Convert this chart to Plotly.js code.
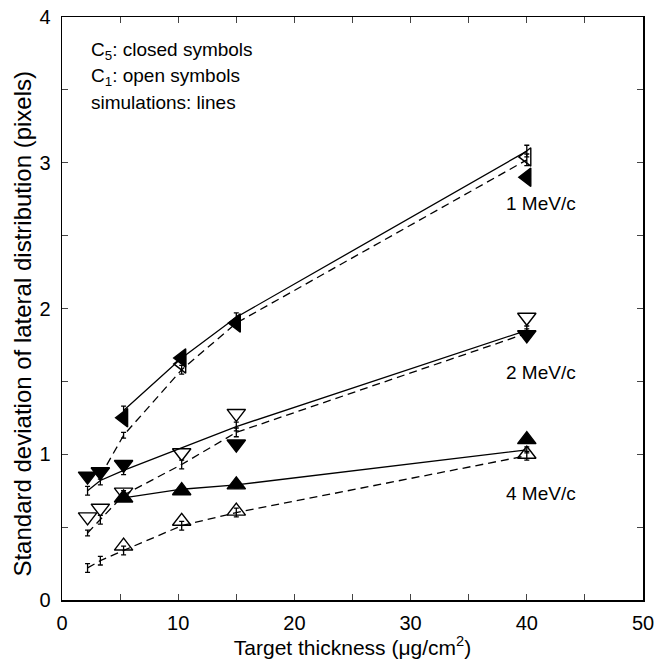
<!DOCTYPE html>
<html><head><meta charset="utf-8">
<script src="https://cdn.plot.ly/plotly-3.0.1.min.js"></script>
<style>body{margin:0;background:#fff}#g{width:654px;height:670px}</style>
</head><body><div id="g"></div>
<script>
// Measured data (symbols)
const c5_1MeV_x = [5.3, 10.3, 15, 40];
const c5_1MeV_y = [1.25, 1.66, 1.90, 2.90];
const c1_1MeV_x = [10.3, 40];
const c1_1MeV_y = [1.62, 3.04];
const c5_2MeV_x = [2.2, 3.3, 5.3, 15, 40];
const c5_2MeV_y = [0.85, 0.88, 0.93, 1.07, 1.82];
const c1_2MeV_x = [2.2, 3.3, 5.3, 10.3, 15, 40];
const c1_2MeV_y = [0.57, 0.63, 0.74, 1.01, 1.28, 1.94];
const c5_4MeV_x = [5.3, 10.3, 15, 40];
const c5_4MeV_y = [0.70, 0.75, 0.79, 1.10];
const c1_4MeV_x = [5.3, 10.3, 15, 40];
const c1_4MeV_y = [0.37, 0.54, 0.61, 1.00];
// Simulations (lines with error bars)
const simC5_1MeV_x = [5.3, 10.3, 15, 40];
const simC5_1MeV_y = [1.30, 1.66, 1.94, 3.08];
const simC5_1MeV_e = [0.03, 0.03, 0.03, 0.04];
const simC1_1MeV_x = [3.3, 5.3, 10.3, 15, 40];
const simC1_1MeV_y = [0.85, 1.13, 1.58, 1.90, 3.02];
const simC1_1MeV_e = [0.02, 0.02, 0.03, 0.03, 0.04];
const simC5_2MeV_x = [2.2, 3.3, 5.3, 15, 40];
const simC5_2MeV_y = [0.75, 0.82, 0.89, 1.19, 1.85];
const simC5_2MeV_e = [0.03, 0.03, 0.03, 0.03, 0.03];
const simC1_2MeV_x = [2.2, 3.3, 5.3, 10.3, 15, 40];
const simC1_2MeV_y = [0.46, 0.55, 0.72, 0.93, 1.15, 1.83];
const simC1_2MeV_e = [0.02, 0.03, 0.03, 0.03, 0.03, 0.03];
const simC5_4MeV_x = [5.3, 10.3, 15, 40];
const simC5_4MeV_y = [0.70, 0.76, 0.79, 1.03];
const simC5_4MeV_e = [0.02, 0.02, 0.02, 0.02];
const simC1_4MeV_x = [2.2, 3.3, 5.3, 10.3, 15, 40];
const simC1_4MeV_y = [0.22, 0.27, 0.34, 0.51, 0.60, 0.99];
const simC1_4MeV_e = [0.03, 0.03, 0.03, 0.03, 0.03, 0.03];
const xTicks = [0, 10, 20, 30, 40, 50];
const yTicks = [0, 1, 2, 3, 4];
const xTitle = 'Target thickness (μg/cm<sup>2</sup>)';
const yTitle = 'Standard deviation of lateral distribution (pixels)';
const noteLines = ["C<sub>5</sub>: closed symbols", "C<sub>1</sub>: open symbols", "simulations: lines"];
const curveLabels = ["1 MeV/c", "2 MeV/c", "4 MeV/c"];
const curveLabelY = [2.72, 1.56, 0.73];

const FONT = "Liberation Sans, Arial, sans-serif";
function sim(x, y, e, dash) {
  return {x: x, y: y, type: 'scatter', mode: 'lines', line: {color: '#000', width: 1.3, dash: dash},
    error_y: {type: 'data', array: e, visible: true, color: '#000', thickness: 1.3, width: 2.5},
    showlegend: false, hoverinfo: 'skip'};
}
function pts(x, y, sym) {
  return {x: x, y: y, type: 'scatter', mode: 'markers',
    marker: {symbol: sym, size: 16, color: '#000', line: {color: '#000', width: 1.4}},
    showlegend: false, hoverinfo: 'skip'};
}
const traces = [
  sim(simC5_1MeV_x, simC5_1MeV_y, simC5_1MeV_e, 'solid'),
  sim(simC1_1MeV_x, simC1_1MeV_y, simC1_1MeV_e, '8px,5px'),
  sim(simC5_2MeV_x, simC5_2MeV_y, simC5_2MeV_e, 'solid'),
  sim(simC1_2MeV_x, simC1_2MeV_y, simC1_2MeV_e, '8px,5px'),
  sim(simC5_4MeV_x, simC5_4MeV_y, simC5_4MeV_e, 'solid'),
  sim(simC1_4MeV_x, simC1_4MeV_y, simC1_4MeV_e, '8px,5px'),
  pts(c1_1MeV_x, c1_1MeV_y, 'triangle-left-open'),
  pts(c5_1MeV_x, c5_1MeV_y, 'triangle-left'),
  pts(c1_2MeV_x, c1_2MeV_y, 'triangle-down-open'),
  pts(c5_2MeV_x, c5_2MeV_y, 'triangle-down'),
  pts(c1_4MeV_x, c1_4MeV_y, 'triangle-up-open'),
  pts(c5_4MeV_x, c5_4MeV_y, 'triangle-up')
];
const annotations = [];
noteLines.forEach((t, i) => annotations.push({x: 2.3, y: 3.77 - i * 0.18, xref: 'x', yref: 'y', text: t,
  showarrow: false, xanchor: 'left', yanchor: 'middle', font: {family: FONT, size: 19, color: '#000'}}));
curveLabels.forEach((t, i) => annotations.push({x: 41.2, y: curveLabelY[i], xref: 'x', yref: 'y', text: t,
  showarrow: false, xanchor: 'center', yanchor: 'middle', font: {family: FONT, size: 19, color: '#000'}}));
// y-axis title, placed as in the reference (slightly below the axis centre)
annotations.push({x: -0.068, y: 0.475, xref: 'paper', yref: 'paper', text: yTitle, textangle: -90,
  showarrow: false, xanchor: 'center', yanchor: 'middle', font: {family: FONT, size: 24, color: '#000'}});
const layout = {
  width: 654, height: 670,
  margin: {l: 62, r: 11, t: 17, b: 70},
  paper_bgcolor: '#fff', plot_bgcolor: '#fff',
  font: {family: FONT, color: '#000', size: 20},
  xaxis: {range: [0, 50], tickvals: xTicks, ticks: 'inside', ticklen: 6, tickwidth: 1,
    minor: {dtick: 5, ticks: 'inside', ticklen: 6, tickwidth: 1}, mirror: 'ticks', ticklabelstandoff: 4,
    ticklabeloverflow: 'allow',
    showline: true, linecolor: '#000', linewidth: 1.5, showgrid: false, zeroline: false,
    tickfont: {family: FONT, size: 20}, title: {text: xTitle, font: {family: FONT, size: 21}, standoff: 4}},
  yaxis: {range: [0, 4], tickvals: yTicks, ticks: 'inside', ticklen: 6, tickwidth: 1,
    minor: {dtick: 0.5, ticks: 'inside', ticklen: 6, tickwidth: 1}, mirror: 'ticks', ticklabelstandoff: 6,
    ticklabeloverflow: 'allow',
    showline: true, linecolor: '#000', linewidth: 1.5, showgrid: false, zeroline: false,
    tickfont: {family: FONT, size: 20}},
  annotations: annotations,
  showlegend: false
};
Plotly.newPlot('g', traces, layout, {staticPlot: true});
</script></body></html>
